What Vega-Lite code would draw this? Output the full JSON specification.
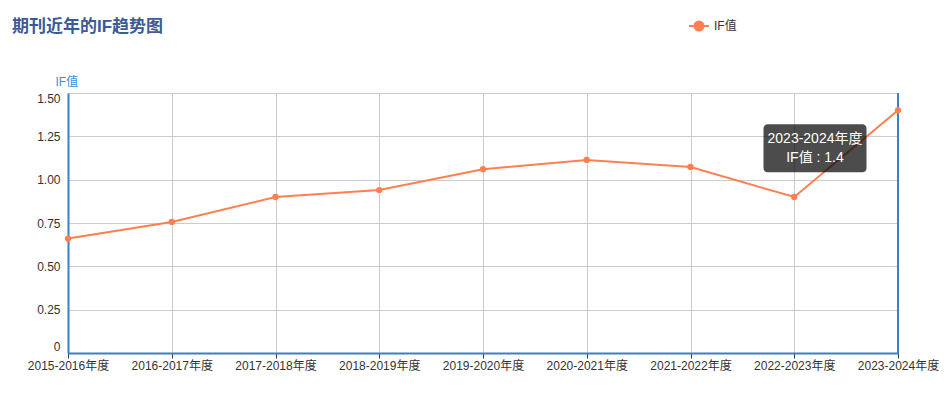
{
  "$schema": "https://vega.github.io/schema/vega-lite/v6.json",
  "width": 830,
  "height": 260,
  "autosize": "none",
  "padding": {"left": 68, "top": 93, "right": 48, "bottom": 64},
  "background": "white",
  "config": {
    "view": {"stroke": null},
    "font": "Liberation Sans, Noto Sans CJK SC, sans-serif"
  },
  "title": {
    "text": "期刊近年的IF趋势图",
    "anchor": "start",
    "frame": "group",
    "fontSize": 17,
    "fontWeight": "bold",
    "color": "#3b5a98",
    "dx": -56,
    "offset": -21,
    "font": "Liberation Sans, Noto Sans CJK SC, sans-serif"
  },
  "datasets": {
    "trend": [
      {"year": "2015-2016年度", "value": 0.66},
      {"year": "2016-2017年度", "value": 0.756},
      {"year": "2017-2018年度", "value": 0.90},
      {"year": "2018-2019年度", "value": 0.94},
      {"year": "2019-2020年度", "value": 1.06},
      {"year": "2020-2021年度", "value": 1.114},
      {"year": "2021-2022年度", "value": 1.073},
      {"year": "2022-2023年度", "value": 0.90},
      {"year": "2023-2024年度", "value": 1.40}
    ]
  },
  "data": {"name": "trend"},
  "encoding": {
    "x": {
      "field": "year",
      "type": "ordinal",
      "sort": null,
      "scale": {
        "type": "point",
        "padding": 0,
        "domain": ["2015-2016年度", "2016-2017年度", "2017-2018年度", "2018-2019年度", "2019-2020年度", "2020-2021年度", "2021-2022年度", "2022-2023年度", "2023-2024年度"]
      },
      "axis": {
        "title": null,
        "labelAngle": 0,
        "labelColor": "#333",
        "labelFontSize": 12,
        "labelPadding": 2,
        "domainColor": "#3d80c0",
        "domainWidth": 2,
        "tickColor": "#333",
        "tickSize": 5,
        "grid": true,
        "gridColor": "#ccc"
      }
    },
    "y": {
      "field": "value",
      "type": "quantitative",
      "scale": {"domain": [0, 1.5], "nice": false},
      "axis": {
        "title": "IF值",
        "titleAngle": 0,
        "titleAlign": "left",
        "titleBaseline": "bottom",
        "titleX": -13,
        "titleY": -5,
        "titleColor": "#3d8fd1",
        "titleFontSize": 12,
        "titleFontWeight": "normal",
        "values": [0, 0.25, 0.5, 0.75, 1, 1.25, 1.5],
        "labelExpr": "datum.value == 0 ? '0' : format(datum.value, '.2f')",
        "labelFlush": true,
        "labelColor": "#333",
        "labelFontSize": 12,
        "labelPadding": 8,
        "ticks": false,
        "domainColor": "#3d80c0",
        "domainWidth": 2,
        "grid": true,
        "gridColor": "#ccc"
      }
    }
  },
  "layer": [
    {
      "mark": {"type": "rule", "color": "#3d80c0", "strokeWidth": 2},
      "encoding": {"x": {"datum": "2023-2024年度"}, "y": null}
    },
    {
      "mark": {"type": "line", "strokeWidth": 2},
      "encoding": {
        "color": {
          "datum": "IF值",
          "scale": {"domain": ["IF值"], "range": ["#ff7f50"]},
          "legend": {
            "title": null,
            "orient": "none",
            "legendX": 620,
            "legendY": -78,
            "symbolType": "M-1,0H-0.45M0.45,0H1M0.45,0A0.45,0.45 0 1 1 -0.45,0A0.45,0.45 0 1 1 0.45,0Z",
            "symbolSize": 400,
            "symbolStrokeWidth": 2,
            "symbolFillColor": "#ff7f50",
            "symbolStrokeColor": "#ff7f50",
            "labelColor": "#333",
            "labelFontSize": 12,
            "labelOffset": 4
          }
        }
      }
    },
    {
      "mark": {"type": "point", "filled": true, "size": 40, "color": "#ff7f50", "opacity": 1}
    },
    {
      "transform": [{"filter": "datum.year == '2023-2024年度'"}],
      "mark": {
        "type": "point",
        "filled": true,
        "shape": "M-0.92,-0.466H0.92A0.078,0.078 0 0 1 1,-0.388V0.388A0.078,0.078 0 0 1 0.92,0.466H-0.92A0.078,0.078 0 0 1 -1,0.388V-0.388A0.078,0.078 0 0 1 -0.92,-0.466Z",
        "size": 10609,
        "color": "#000",
        "opacity": 0.7,
        "xOffset": -83,
        "yOffset": 38
      }
    },
    {
      "transform": [{"filter": "datum.year == '2023-2024年度'"}],
      "mark": {"type": "text", "color": "white", "fontSize": 14, "xOffset": -83, "yOffset": 29, "baseline": "middle"},
      "encoding": {"text": {"field": "year"}}
    },
    {
      "transform": [
        {"filter": "datum.year == '2023-2024年度'"},
        {"calculate": "'IF值 : ' + format(datum.value, '.1f')", "as": "tip"}
      ],
      "mark": {"type": "text", "color": "white", "fontSize": 14, "xOffset": -83, "yOffset": 48, "baseline": "middle"},
      "encoding": {"text": {"field": "tip"}}
    }
  ]
}
